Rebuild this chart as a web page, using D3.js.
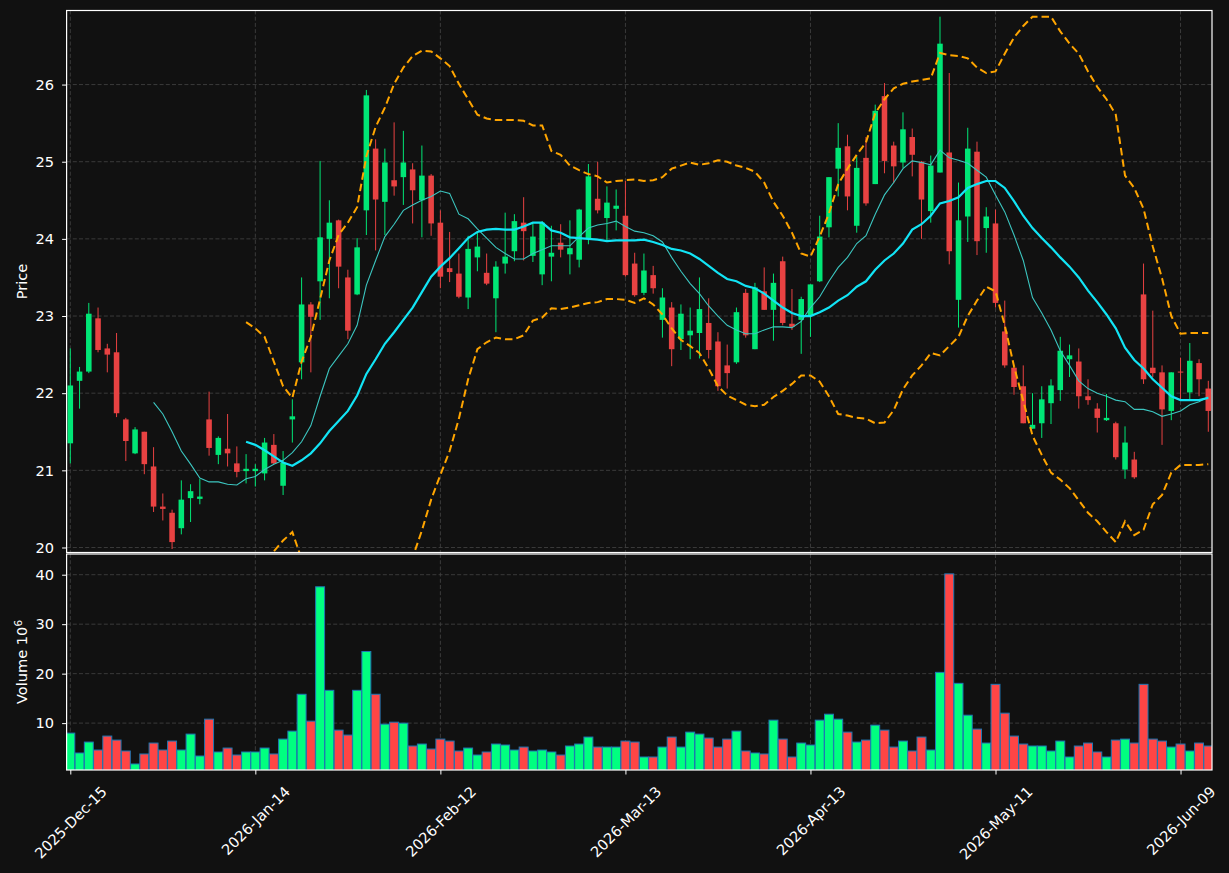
<!DOCTYPE html>
<html lang="en">
<head>
<meta charset="UTF-8">
<title>Candlestick</title>
<script src="https://d3js.org/d3.v7.min.js"></script>
<style>
  body { margin: 0; background: #111111; }
  svg text { font-family: "DejaVu Sans", sans-serif; fill: #ffffff; }
</style>
</head>
<body>
<div id="chart"></div>
<script>
// x tick labels (every 20 trading days)
const tickIdx = [0, 20, 40, 60, 80, 100, 120];
const tickLabels = ["2025-Dec-15", "2026-Jan-14", "2026-Feb-12", "2026-Mar-13", "2026-Apr-13", "2026-May-11", "2026-Jun-09"];
const priceTicks = [20, 21, 22, 23, 24, 25, 26];
const volTicks = [10, 20, 30, 40];

// OHLC
const opens = [21.35,22.16,22.28,22.97,22.58,22.53,21.66,21.22,21.50,21.05,20.53,20.45,20.25,20.64,20.63,21.66,21.20,21.28,21.09,20.99,
  20.99,20.96,21.33,20.80,21.66,22.40,23.15,23.45,24.00,24.24,23.50,23.28,24.37,25.17,24.48,24.76,24.80,24.90,24.50,24.82,
  24.21,23.62,23.55,23.24,23.76,23.56,23.23,23.68,23.84,24.21,23.78,23.54,23.77,23.95,23.80,23.73,24.00,24.52,24.27,24.39,
  24.30,23.68,23.30,23.53,22.95,23.11,22.70,22.75,22.78,22.91,22.67,22.36,22.40,23.30,22.57,23.32,23.08,23.71,22.90,22.95,
  23.00,23.45,24.15,24.91,25.20,24.17,25.05,24.71,25.85,25.21,24.99,25.32,25.00,24.36,24.86,25.12,23.21,24.29,25.13,24.14,
  24.20,22.80,22.33,22.09,21.54,21.61,21.87,22.04,22.44,22.41,21.96,21.80,21.65,21.61,21.01,21.14,23.28,22.33,22.27,21.77,
  22.28,22.01,22.39,22.06];
const highs = [22.58,22.34,23.17,23.11,22.64,22.78,21.68,21.56,21.50,21.30,20.70,20.49,20.87,20.82,20.89,22.02,21.44,21.73,21.31,21.21,
  21.08,21.42,21.47,21.25,21.92,23.50,23.18,25.01,24.50,24.25,23.60,24.01,25.93,25.29,25.17,25.51,25.40,24.98,25.21,24.84,
  24.37,24.09,23.81,24.04,24.09,23.81,23.71,24.34,24.32,24.54,24.20,24.23,24.17,24.19,24.24,24.39,24.97,25.00,24.68,24.64,
  24.75,23.82,23.81,23.65,23.36,23.18,23.15,23.11,23.50,23.23,22.79,22.63,23.11,23.35,23.43,23.63,23.55,23.77,23.35,23.25,
  23.41,24.30,24.80,25.50,25.35,25.07,25.32,25.74,26.02,25.26,25.64,25.43,25.01,25.08,26.88,26.15,24.73,25.44,25.26,24.41,
  24.38,23.20,22.33,22.36,22.00,22.09,22.18,22.73,22.63,22.58,22.18,21.87,21.99,21.63,21.57,21.24,23.68,23.07,22.36,22.27,
  22.46,22.65,22.44,22.16];
const lows = [21.09,21.80,22.26,22.53,22.27,21.69,21.12,21.21,20.95,20.46,20.35,19.98,20.17,20.33,20.56,21.19,21.08,21.05,20.91,20.83,
  20.79,20.87,21.08,20.68,21.36,22.18,22.27,22.95,23.23,23.36,22.70,23.27,24.05,23.85,24.05,24.56,24.44,24.20,24.02,24.04,
  23.36,23.44,23.23,23.09,23.58,23.40,22.79,23.55,23.71,23.72,23.70,23.40,23.45,23.76,23.54,23.63,23.93,24.33,23.96,24.11,
  23.51,23.25,23.27,23.29,22.72,22.35,22.56,22.44,22.45,22.45,22.03,22.06,22.38,22.72,22.57,23.08,22.68,22.88,22.82,22.51,
  22.73,23.44,24.02,24.55,24.37,24.08,24.43,24.71,24.85,24.72,24.92,24.81,24.00,24.21,24.86,23.67,22.85,23.96,23.79,23.82,
  23.11,22.33,21.98,21.61,21.54,21.42,21.60,21.90,22.21,21.80,21.85,21.49,21.64,21.14,20.89,20.89,22.12,22.21,21.33,21.65,
  21.91,21.91,21.96,21.50];
const closes = [22.10,22.28,23.03,22.56,22.50,21.74,21.38,21.53,21.08,20.53,20.50,20.07,20.62,20.73,20.66,21.29,21.42,21.22,20.98,21.02,
  21.02,21.36,21.09,21.10,21.70,23.15,22.99,24.02,24.21,23.64,22.81,23.89,25.86,24.51,24.99,24.68,24.99,24.63,24.82,24.20,
  23.51,23.57,23.25,23.87,23.90,23.42,23.64,23.77,24.23,24.10,24.03,24.21,23.82,23.86,23.88,24.38,24.81,24.37,24.47,24.43,
  23.53,23.27,23.59,23.36,23.24,22.57,23.03,22.81,23.09,22.56,22.09,22.26,23.05,22.75,23.37,23.08,23.43,22.91,22.86,23.22,
  23.41,24.03,24.80,25.18,24.55,24.92,24.46,25.66,25.01,24.94,25.42,25.09,24.51,24.95,26.53,23.84,24.24,25.17,23.97,24.29,
  23.17,22.36,22.08,21.61,21.59,21.92,22.10,22.55,22.49,21.96,21.91,21.68,21.68,21.17,21.36,20.91,22.18,22.26,21.79,22.27,
  22.27,22.42,22.18,21.77];
// volume in millions
const volumes = [7.98,3.96,6.17,4.56,7.38,6.57,4.36,1.74,3.76,5.97,4.56,6.37,4.56,7.78,3.35,10.80,4.16,4.96,3.55,4.16,
  4.16,4.96,3.76,6.77,8.38,15.83,10.40,37.56,16.63,8.58,7.58,16.63,24.48,15.83,9.79,10.19,9.99,5.37,5.77,4.76,
  6.77,6.37,4.36,4.96,3.55,4.16,5.77,5.57,4.56,5.16,4.36,4.56,4.16,3.55,5.37,5.77,7.18,5.16,5.16,5.16,
  6.37,6.17,3.15,3.15,5.16,7.18,5.16,8.18,7.78,6.98,5.16,6.77,8.38,4.36,3.96,3.76,10.60,6.77,3.15,5.97,
  5.57,10.60,11.80,10.80,8.18,6.17,6.57,9.59,8.58,5.16,6.37,4.36,7.18,4.56,20.26,40.17,18.04,11.60,8.79,5.97,
  17.84,12.01,7.38,5.77,5.37,5.37,4.36,6.37,3.15,5.37,5.97,4.16,3.15,6.57,6.77,5.97,17.84,6.77,6.37,5.16,
  5.77,4.36,5.97,5.37];

// 10-day average, from bar 9
const ma10Start = 9;
const ma10 = [21.88,21.73,21.50,21.25,21.08,20.90,20.85,20.85,20.82,20.81,20.89,
  20.92,21.01,21.08,21.13,21.23,21.37,21.58,21.96,22.32,22.48,22.64,22.88,23.40,23.72,24.03,24.19,24.37,24.44,24.50,24.55,
  24.62,24.59,24.32,24.26,24.13,24.01,23.89,23.81,23.74,23.74,23.81,23.86,23.91,23.91,23.91,24.03,24.14,24.18,24.20,24.23,
  24.16,24.10,24.08,24.04,23.96,23.76,23.58,23.42,23.29,23.13,23.00,22.88,22.82,22.77,22.77,22.82,22.86,22.86,22.85,22.93,
  23.11,23.25,23.45,23.63,23.76,23.94,24.04,24.32,24.57,24.73,24.91,25.01,24.99,24.96,25.15,25.05,25.02,24.98,24.89,24.80,
  24.57,24.35,24.05,23.72,23.24,23.04,22.82,22.55,22.36,22.16,22.06,22.00,21.96,21.91,21.89,21.79,21.79,21.76,21.70,21.73,
  21.77,21.85,21.89,21.95];

// 20-day average and bands, from bar 19
const ma20Start = 19;
const ma20 = [21.37,
  21.33,21.26,21.18,21.10,21.06,21.13,21.22,21.35,21.51,21.64,21.77,21.97,22.25,22.44,22.64,22.79,22.95,23.11,23.31,23.51,
  23.64,23.75,23.88,24.01,24.09,24.12,24.13,24.12,24.12,24.16,24.21,24.21,24.11,24.08,24.02,24.01,24.00,23.99,23.97,23.98,
  23.98,23.98,23.99,23.96,23.92,23.87,23.85,23.81,23.74,23.65,23.56,23.48,23.45,23.39,23.36,23.29,23.20,23.11,23.04,23.00,
  23.00,23.05,23.11,23.20,23.27,23.38,23.45,23.60,23.72,23.81,23.94,24.12,24.19,24.30,24.46,24.49,24.54,24.66,24.71,24.75,
  24.75,24.66,24.49,24.30,24.14,24.01,23.89,23.76,23.64,23.50,23.33,23.18,23.02,22.84,22.59,22.43,22.32,22.18,22.07,21.96,
  21.91,21.91,21.91,21.94];
const bbUpper = [22.92,
  22.84,22.73,22.41,22.09,21.94,22.41,22.73,23.22,23.72,24.05,24.21,24.41,25.07,25.45,25.70,26.01,26.22,26.37,26.44,26.43,
  26.34,26.24,26.01,25.81,25.61,25.56,25.54,25.54,25.54,25.53,25.47,25.47,25.14,25.09,24.95,24.89,24.84,24.81,24.73,24.75,
  24.76,24.77,24.75,24.76,24.80,24.91,24.95,24.99,24.96,24.98,25.02,25.00,24.95,24.92,24.87,24.73,24.48,24.30,24.08,23.81,
  23.77,24.03,24.33,24.71,24.91,25.09,25.25,25.63,25.81,25.95,26.01,26.04,26.06,26.08,26.41,26.38,26.37,26.34,26.22,26.15,
  26.17,26.40,26.61,26.76,26.88,26.88,26.88,26.69,26.53,26.40,26.17,25.97,25.81,25.61,24.82,24.66,24.39,23.90,23.49,23.00,
  22.77,22.78,22.78,22.78];
const bbLower = [19.82,
  19.82,19.79,19.95,20.09,20.20,19.85,19.71,19.48,19.30,19.23,19.33,19.53,19.43,19.43,19.58,19.57,19.68,19.87,20.22,20.62,
  20.94,21.25,21.67,22.18,22.57,22.66,22.72,22.70,22.70,22.75,22.94,22.98,23.10,23.09,23.11,23.14,23.17,23.18,23.22,23.22,
  23.21,23.17,23.23,23.15,23.02,22.84,22.69,22.61,22.52,22.32,22.09,21.97,21.91,21.85,21.83,21.85,21.95,22.03,22.12,22.23,
  22.23,22.15,21.96,21.73,21.71,21.68,21.67,21.61,21.62,21.78,22.05,22.23,22.36,22.52,22.49,22.61,22.73,23.00,23.20,23.38,
  23.32,22.88,22.35,21.90,21.45,21.20,20.97,20.88,20.77,20.61,20.45,20.34,20.20,20.07,20.34,20.16,20.23,20.56,20.68,20.97,
  21.07,21.07,21.07,21.08];

// layout
const W = 1229, H = 873;
const left = 66.6, right = 1212;
const priceTop = 10.5, priceBottom = 552.5, volTop = 554, volBottom = 770;
const upCandle = "#00e676", downCandle = "#e84242";
const upVol = "#00ff80", downVol = "#ff4545";
const gridColor = "#404040";
const fontSize = "14.6px";

const svg = d3.select("#chart").append("svg")
  .attr("width", W).attr("height", H);
svg.append("rect").attr("width", W).attr("height", H).attr("fill", "#111111");

const x = d3.scaleLinear().domain([-0.4, opens.length - 0.6]).range([left, right]);
const step = x(1) - x(0);
const y = d3.scaleLinear().domain([19.935, 26.96]).range([priceBottom, priceTop]);
const yv = d3.scaleLinear()
  .domain([0.3 * d3.min(volumes), 1.1 * d3.max(volumes)])
  .range([volBottom, volTop]);

const defs = svg.append("defs");
defs.append("clipPath").attr("id", "clipPrice").append("rect")
  .attr("x", left).attr("y", priceTop).attr("width", right - left).attr("height", priceBottom - priceTop);
defs.append("clipPath").attr("id", "clipVol").append("rect")
  .attr("x", left).attr("y", volTop).attr("width", right - left).attr("height", volBottom - volTop);

// grid
const grid = svg.append("g").attr("stroke", gridColor).attr("stroke-width", 0.9).attr("stroke-dasharray", "4,2.2");
tickIdx.forEach(t => {
  grid.append("line").attr("x1", x(t)).attr("x2", x(t)).attr("y1", priceTop).attr("y2", priceBottom);
  grid.append("line").attr("x1", x(t)).attr("x2", x(t)).attr("y1", volTop).attr("y2", volBottom);
});
priceTicks.forEach(t => grid.append("line").attr("x1", left).attr("x2", right).attr("y1", y(t)).attr("y2", y(t)));
volTicks.forEach(t => grid.append("line").attr("x1", left).attr("x2", right).attr("y1", yv(t)).attr("y2", yv(t)));

// candles
const pricePanel = svg.append("g").attr("clip-path", "url(#clipPrice)");
const candles = pricePanel.append("g").selectAll("g").data(opens).join("g");
const col = i => closes[i] >= opens[i] ? upCandle : downCandle;
candles.append("line")
  .attr("x1", (d, i) => x(i)).attr("x2", (d, i) => x(i))
  .attr("y1", (d, i) => y(highs[i])).attr("y2", (d, i) => y(lows[i]))
  .attr("stroke", (d, i) => col(i)).attr("stroke-width", 1);
const bw = step * 0.6;
candles.append("rect")
  .attr("x", (d, i) => x(i) - bw / 2)
  .attr("y", (d, i) => y(Math.max(opens[i], closes[i])))
  .attr("width", bw)
  .attr("height", (d, i) => Math.max(1, Math.abs(y(opens[i]) - y(closes[i]))))
  .attr("fill", (d, i) => col(i));

// moving averages and bands
const lineFrom = (start) => d3.line().x((d, i) => x(i + start)).y(d => y(d));
pricePanel.append("path").attr("d", lineFrom(ma10Start)(ma10))
  .attr("fill", "none").attr("stroke", "#3cc6c0").attr("stroke-width", 1.1);
pricePanel.append("path").attr("d", lineFrom(ma20Start)(ma20))
  .attr("fill", "none").attr("stroke", "#12e4f5").attr("stroke-width", 2.2);
[bbUpper, bbLower].forEach(b => {
  pricePanel.append("path").attr("d", lineFrom(ma20Start)(b))
    .attr("fill", "none").attr("stroke", "#ffa500").attr("stroke-width", 2)
    .attr("stroke-dasharray", "7.5,4");
});

// volume
const vw = step - 0.3;
svg.append("g").attr("clip-path", "url(#clipVol)")
  .selectAll("rect").data(volumes).join("rect")
  .attr("x", (d, i) => x(i) - vw / 2)
  .attr("y", d => yv(d))
  .attr("width", vw)
  .attr("height", d => volBottom - yv(d) + 2)
  .attr("fill", (d, i) => closes[i] >= opens[i] ? upVol : downVol)
  .attr("stroke", "#1f77b4").attr("stroke-width", 1);

// axes
function styleAxis(g) {
  g.select(".domain").remove();
  g.selectAll("line").attr("stroke", "#ffffff").attr("stroke-width", 1);
  g.selectAll("text").attr("fill", "#ffffff").style("font-size", fontSize)
    .style("font-family", "'DejaVu Sans', sans-serif");
}
svg.append("g").attr("transform", `translate(${left},0)`)
  .call(d3.axisLeft(y).tickValues(priceTicks).tickFormat(d3.format("d")).tickSize(4.5).tickPadding(8))
  .call(styleAxis);
svg.append("g").attr("transform", `translate(${left},0)`)
  .call(d3.axisLeft(yv).tickValues(volTicks).tickFormat(d3.format("d")).tickSize(4.5).tickPadding(8))
  .call(styleAxis);
const xAxis = svg.append("g").attr("transform", `translate(0,${volBottom})`)
  .call(d3.axisBottom(x).tickValues(tickIdx).tickFormat((d, i) => tickLabels[i]).tickSize(4.5))
  .call(styleAxis);
xAxis.selectAll("text").each(function () {
  const t = d3.select(this);
  const len = this.getComputedTextLength();
  const off = 14 + (len + 14) * 0.7071 / 2;
  t.attr("y", 0).attr("x", 0).attr("dy", "0.35em")
    .attr("text-anchor", "middle")
    .attr("transform", `translate(0,${off}) rotate(-45)`);
});

// spines
[[priceTop, priceBottom], [volTop, volBottom]].forEach(([t, b]) => {
  svg.append("rect").attr("x", left).attr("y", t).attr("width", right - left).attr("height", b - t)
    .attr("fill", "none").attr("stroke", "#ffffff").attr("stroke-width", 1.2);
});

// axis titles
svg.append("text").attr("transform", `translate(22,${(priceTop + priceBottom) / 2}) rotate(-90)`)
  .attr("text-anchor", "middle").attr("dy", "0.35em").style("font-size", fontSize).text("Price");
const vt = svg.append("text").attr("transform", `translate(22,${(volTop + volBottom) / 2}) rotate(-90)`)
  .attr("text-anchor", "middle").attr("dy", "0.35em").style("font-size", fontSize);
vt.append("tspan").text("Volume  10");
vt.append("tspan").attr("dy", "-0.45em").style("font-size", "10.5px").text("6");
</script>
</body>
</html>
